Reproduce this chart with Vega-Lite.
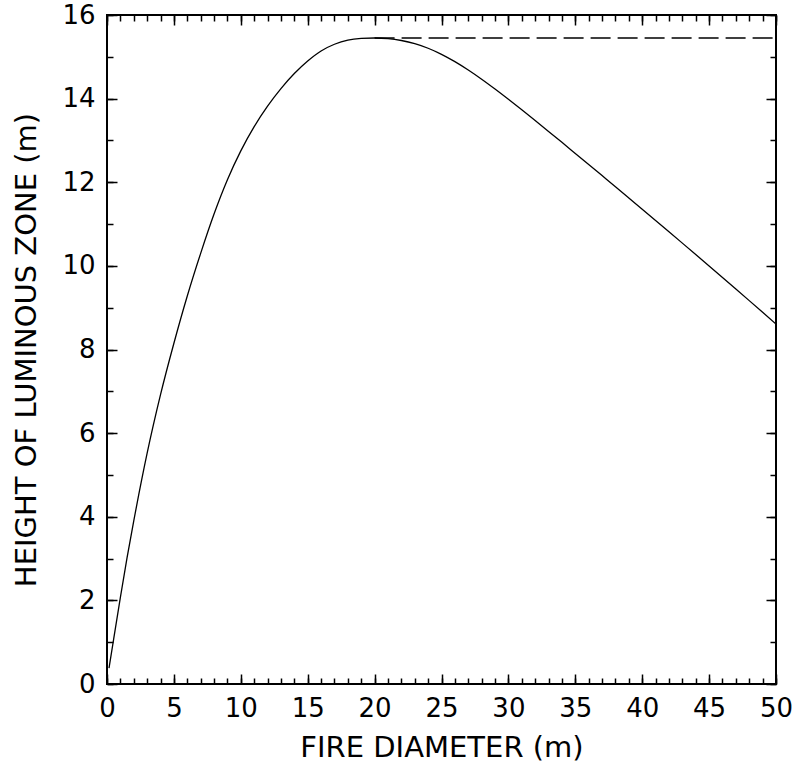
{
  "$schema": "https://vega.github.io/schema/vega-lite/v6.json",
  "width": 669,
  "height": 669,
  "autosize": {"type": "none"},
  "padding": {"left": 107, "top": 15, "right": 20, "bottom": 85},
  "background": "white",
  "config": {
    "view": {"stroke": "black", "strokeWidth": 2},
    "font": "DejaVu Sans",
    "axis": {"grid": false, "domain": false, "labelFlush": false, "labelOverlap": false, "tickColor": "black", "tickWidth": 1.5, "labelColor": "black", "titleColor": "black", "labelFont": "DejaVu Sans", "titleFont": "DejaVu Sans", "labelFontSize": 26, "titleFontSize": 29, "titleFontWeight": "normal"}
  },
  "datasets": {
    "curve": [
      {"x": 0.15, "y": 0.38}, {"x": 0.5, "y": 1.08}, {"x": 1.0, "y": 2.07}, {"x": 1.5, "y": 3.02},
      {"x": 2.0, "y": 3.9}, {"x": 3.0, "y": 5.52}, {"x": 4.0, "y": 6.92}, {"x": 5.0, "y": 8.15},
      {"x": 6.0, "y": 9.28}, {"x": 7.0, "y": 10.3}, {"x": 8.0, "y": 11.24}, {"x": 9.0, "y": 12.06},
      {"x": 10.0, "y": 12.75}, {"x": 11.0, "y": 13.33}, {"x": 12.0, "y": 13.82}, {"x": 13.0, "y": 14.24},
      {"x": 14.0, "y": 14.6}, {"x": 15.0, "y": 14.9}, {"x": 16.0, "y": 15.14}, {"x": 17.0, "y": 15.3},
      {"x": 18.0, "y": 15.4}, {"x": 19.0, "y": 15.44}, {"x": 20.0, "y": 15.45},
      {"x": 21.0, "y": 15.435}, {"x": 22.0, "y": 15.39}, {"x": 23.0, "y": 15.315}, {"x": 24.0, "y": 15.205},
      {"x": 25.0, "y": 15.06}, {"x": 26.0, "y": 14.885}, {"x": 27.0, "y": 14.685}, {"x": 28.0, "y": 14.465},
      {"x": 29.0, "y": 14.23}, {"x": 30.0, "y": 13.985}, {"x": 31.0, "y": 13.733}, {"x": 32.0, "y": 13.476},
      {"x": 33.0, "y": 13.216}, {"x": 34.0, "y": 12.954}, {"x": 35.0, "y": 12.69}, {"x": 36.0, "y": 12.426},
      {"x": 37.0, "y": 12.16}, {"x": 38.0, "y": 11.894}, {"x": 39.0, "y": 11.626}, {"x": 40.0, "y": 11.357},
      {"x": 41.0, "y": 11.087}, {"x": 42.0, "y": 10.816}, {"x": 43.0, "y": 10.544}, {"x": 44.0, "y": 10.271},
      {"x": 45.0, "y": 9.997}, {"x": 46.0, "y": 9.722}, {"x": 47.0, "y": 9.446}, {"x": 48.0, "y": 9.169},
      {"x": 49.0, "y": 8.89}, {"x": 50.0, "y": 8.61}
    ],
    "dash": [{"x": 20.0, "y": 15.45}, {"x": 50.0, "y": 15.45}]
  },
  "resolve": {"axis": {"x": "independent", "y": "independent"}},
  "layer": [
    {
      "data": {"name": "curve"},
      "mark": {"type": "line", "color": "black", "strokeWidth": 1.3, "interpolate": "monotone", "clip": true},
      "encoding": {
        "x": {"field": "x", "type": "quantitative", "scale": {"domain": [0, 50], "nice": false, "zero": false},
          "axis": {"orient": "bottom", "values": [0, 5, 10, 15, 20, 25, 30, 35, 40, 45, 50], "ticks": false, "labelPadding": 11, "title": "FIRE DIAMETER (m)", "titlePadding": 12}},
        "y": {"field": "y", "type": "quantitative", "scale": {"domain": [0, 16], "nice": false, "zero": false},
          "axis": {"orient": "left", "values": [0, 2, 4, 6, 8, 10, 12, 14, 16], "ticks": false, "labelPadding": 12, "title": "HEIGHT OF LUMINOUS ZONE (m)", "titlePadding": 20}}
      }
    },
    {
      "data": {"name": "dash"},
      "mark": {"type": "line", "color": "black", "strokeWidth": 1.5, "strokeDash": [20, 7]},
      "encoding": {
        "x": {"field": "x", "type": "quantitative", "scale": {"domain": [0, 50], "nice": false, "zero": false},
          "axis": {"orient": "bottom", "values": [0,1,2,3,4,5,6,7,8,9,10,11,12,13,14,15,16,17,18,19,20,21,22,23,24,25,26,27,28,29,30,31,32,33,34,35,36,37,38,39,40,41,42,43,44,45,46,47,48,49,50], "labels": false, "tickSize": -6, "title": null}},
        "y": {"field": "y", "type": "quantitative", "scale": {"domain": [0, 16], "nice": false, "zero": false},
          "axis": {"orient": "left", "values": [0,1,2,3,4,5,6,7,8,9,10,11,12,13,14,15,16], "labels": false, "tickSize": -6, "title": null}}
      }
    },
    {
      "data": {"name": "dash"},
      "mark": {"type": "point", "opacity": 0},
      "encoding": {
        "x": {"field": "x", "type": "quantitative", "scale": {"domain": [0, 50], "nice": false, "zero": false},
          "axis": {"orient": "bottom", "values": [0, 5, 10, 15, 20, 25, 30, 35, 40, 45, 50], "labels": false, "tickSize": -10, "title": null}},
        "y": {"field": "y", "type": "quantitative", "scale": {"domain": [0, 16], "nice": false, "zero": false},
          "axis": {"orient": "left", "values": [0, 2, 4, 6, 8, 10, 12, 14, 16], "labels": false, "tickSize": -10, "title": null}}
      }
    },
    {
      "data": {"name": "dash"},
      "mark": {"type": "point", "opacity": 0},
      "encoding": {
        "x": {"field": "x", "type": "quantitative", "scale": {"domain": [0, 50], "nice": false, "zero": false},
          "axis": {"orient": "top", "values": [0,1,2,3,4,5,6,7,8,9,10,11,12,13,14,15,16,17,18,19,20,21,22,23,24,25,26,27,28,29,30,31,32,33,34,35,36,37,38,39,40,41,42,43,44,45,46,47,48,49,50], "labels": false, "tickSize": -6, "title": null}},
        "y": {"field": "y", "type": "quantitative", "scale": {"domain": [0, 16], "nice": false, "zero": false},
          "axis": {"orient": "right", "values": [0,1,2,3,4,5,6,7,8,9,10,11,12,13,14,15,16], "labels": false, "tickSize": -6, "title": null}}
      }
    },
    {
      "data": {"name": "dash"},
      "mark": {"type": "point", "opacity": 0},
      "encoding": {
        "x": {"field": "x", "type": "quantitative", "scale": {"domain": [0, 50], "nice": false, "zero": false},
          "axis": {"orient": "top", "values": [0, 5, 10, 15, 20, 25, 30, 35, 40, 45, 50], "labels": false, "tickSize": -10, "title": null}},
        "y": {"field": "y", "type": "quantitative", "scale": {"domain": [0, 16], "nice": false, "zero": false},
          "axis": {"orient": "right", "values": [0, 2, 4, 6, 8, 10, 12, 14, 16], "labels": false, "tickSize": -10, "title": null}}
      }
    }
  ]
}
